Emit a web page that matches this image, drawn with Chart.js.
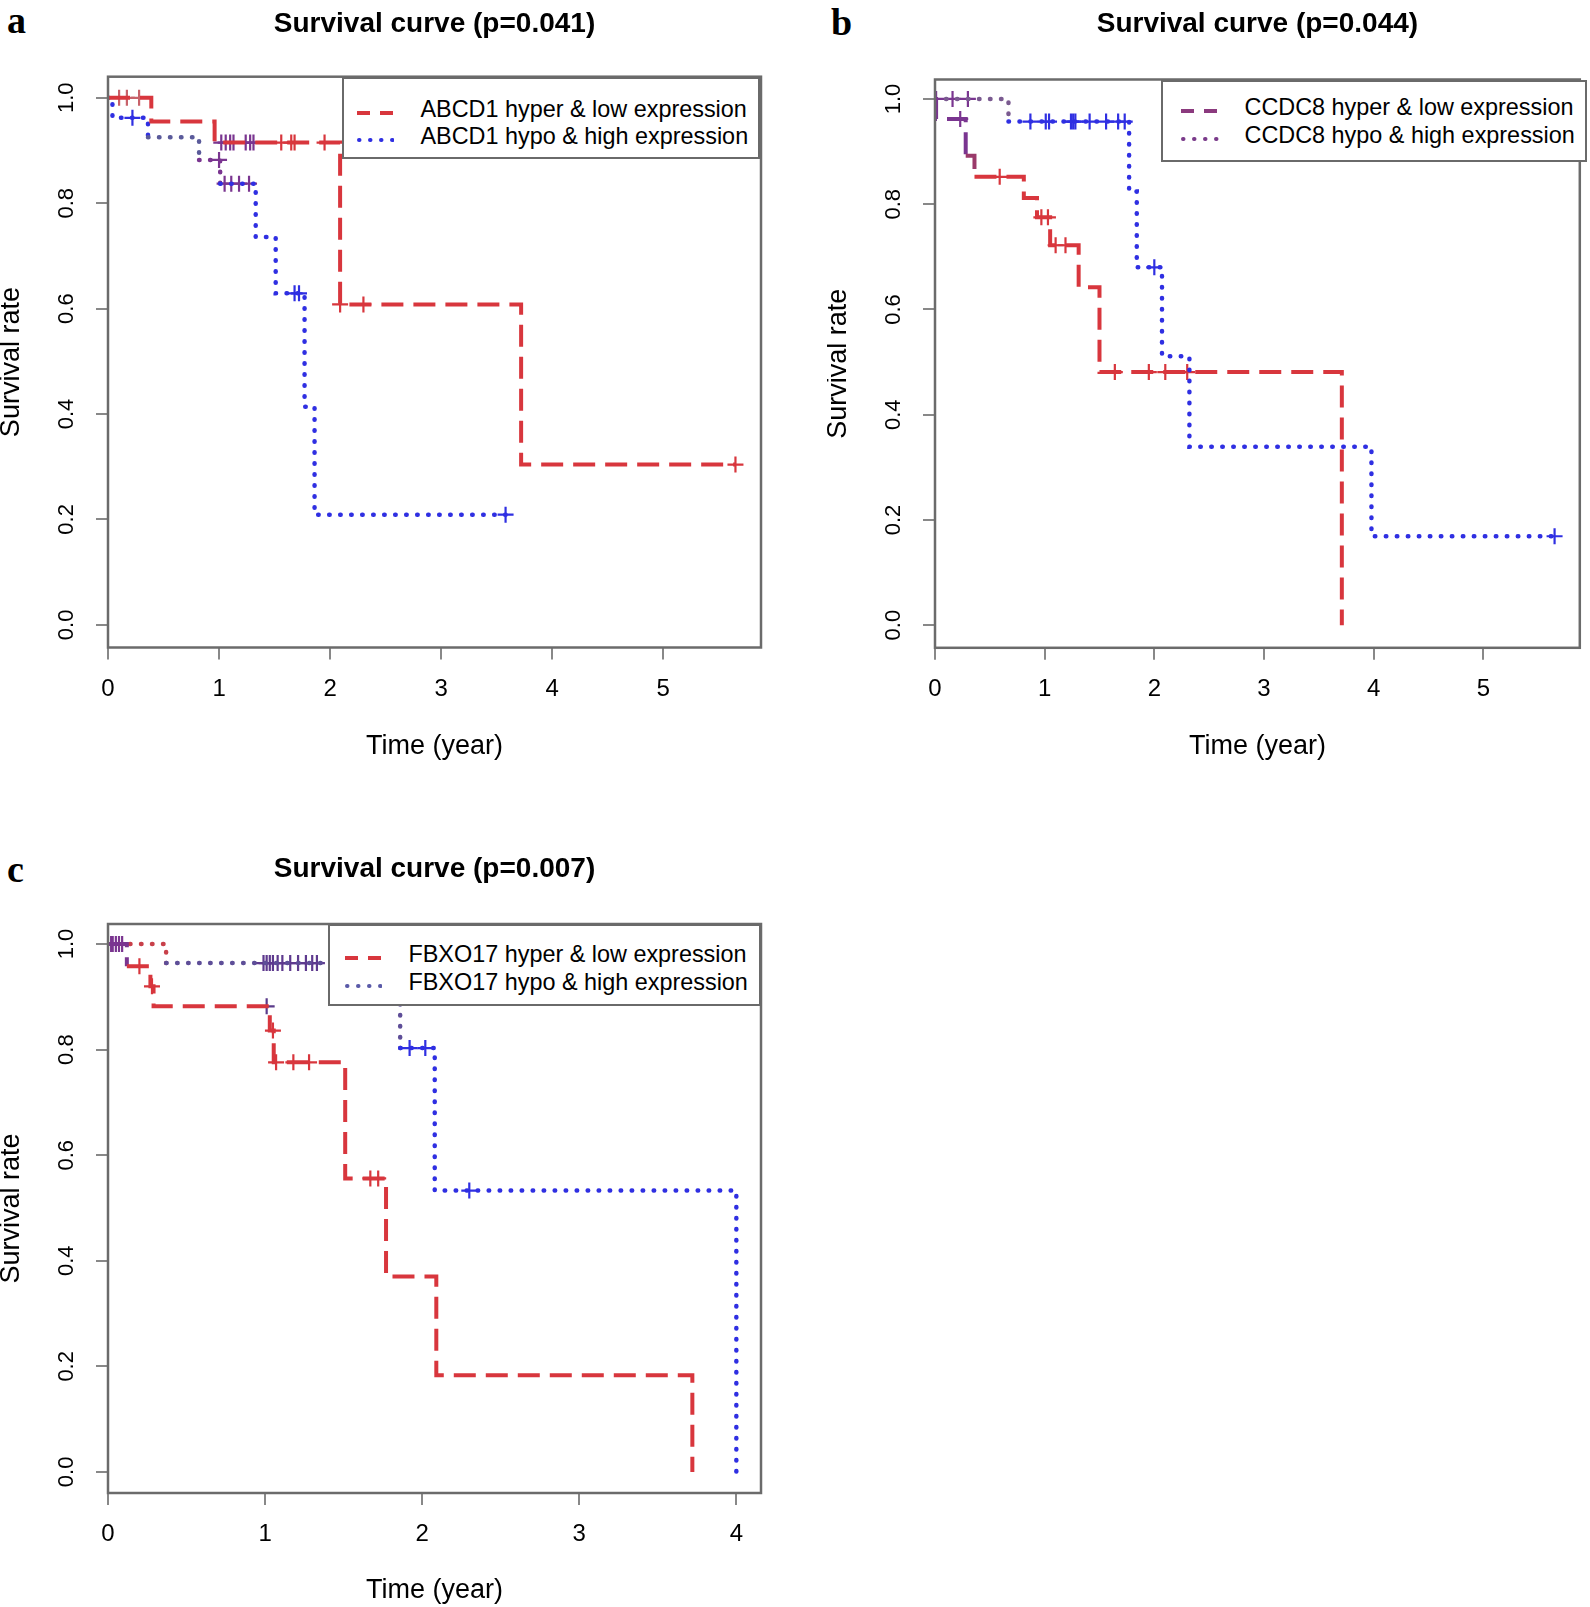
<!DOCTYPE html>
<html>
<head>
<meta charset="utf-8">
<title>Survival curves</title>
<script src="https://cdn.jsdelivr.net/npm/chart.js@4.4.1/dist/chart.umd.min.js"></script>
<style>
  body { margin: 0; background: #fff; }
  #page { position: relative; width: 1590px; height: 1607px; overflow: hidden; font-family: "Liberation Sans", Arial, sans-serif; }
  canvas { position: absolute; }
  .letter { position: absolute; font-family: "Liberation Serif", "Times New Roman", serif; font-weight: bold; font-size: 38px; line-height: 38px; }
  .legend { position: absolute; box-sizing: border-box; background: #fff; border: 2.5px solid #6a6a6a; }
  .legend .row { position: absolute; white-space: nowrap; font-size: 23.4px; line-height: 24px; color: #000; }
  .legend svg { position: absolute; }
</style>
</head>
<body>
<div id="page">
  <div class="letter" style="left:7px;top:1px">a</div>
  <div class="letter" style="left:831px;top:3px">b</div>
  <div class="letter" style="left:7px;top:850px">c</div>
  <canvas id="chartA" width="800" height="800" style="left:0;top:0"></canvas>
  <canvas id="chartB" width="763" height="800" style="left:827px;top:0"></canvas>
  <canvas id="chartC" width="800" height="767" style="left:0;top:840px"></canvas>
</div>
<script>
// --- data (time in years, survival rate) ---
const yTicks = [0, 0.2, 0.4, 0.6, 0.8, 1.0];

// a: ABCD1
const aXTicks = [0, 1, 2, 3, 4, 5];
const aHyperTime = [0, 0.39, 0.96, 2.09, 3.72, 5.65];
const aHyperSurv = [1.0, 0.955, 0.915, 0.608, 0.304, 0.304];
const aHyperCensor = [0.10, 0.17, 0.28, 1.02, 1.06, 1.10, 1.13, 1.24, 1.28, 1.31, 1.56, 1.65, 1.68, 1.95, 2.09, 2.30, 5.65];
const aHypoTime = [0, 0.04, 0.36, 0.82, 1.01, 1.33, 1.51, 1.77, 1.86, 3.58];
const aHypoSurv = [1.0, 0.962, 0.925, 0.882, 0.837, 0.736, 0.629, 0.414, 0.209, 0.209];
const aHypoCensor = [0.22, 1.00, 1.05, 1.11, 1.18, 1.27, 1.68, 1.72, 3.58];

// b: CCDC8
const bXTicks = [0, 1, 2, 3, 4, 5];
const bHyperTime = [0, 0.01, 0.28, 0.36, 0.81, 0.93, 1.05, 1.31, 1.50, 3.71];
const bHyperSurv = [1.0, 0.962, 0.892, 0.852, 0.812, 0.775, 0.722, 0.642, 0.481, 0.0];
const bHyperCensor = [0.23, 0.59, 0.97, 1.03, 1.10, 1.19, 1.64, 1.95, 2.10, 2.30];
const bHypoTime = [0, 0.67, 1.77, 1.84, 2.07, 2.32, 3.98, 5.65];
const bHypoSurv = [1.0, 0.957, 0.824, 0.68, 0.511, 0.339, 0.169, 0.169];
const bHypoCensor = [0.01, 0.16, 0.30, 0.87, 1.01, 1.04, 1.24, 1.26, 1.28, 1.41, 1.56, 1.67, 1.73, 2.00, 5.65];

// c: FBXO17
const cXTicks = [0, 1, 2, 3, 4];
const cHyperTime = [0, 0.12, 0.27, 0.29, 1.03, 1.055, 1.51, 1.77, 2.09, 3.72];
const cHyperSurv = [1.0, 0.958, 0.92, 0.882, 0.836, 0.776, 0.556, 0.37, 0.183, 0.0];
const cHyperCensor = [0.03, 0.07, 0.20, 0.28, 1.01, 1.05, 1.07, 1.18, 1.28, 1.67, 1.72];
const cHypoTime = [0, 0.37, 1.86, 2.08, 4.0];
const cHypoSurv = [1.0, 0.964, 0.803, 0.533, 0.0];
const cHypoCensor = [0.02, 0.05, 0.09, 0.99, 1.01, 1.03, 1.05, 1.08, 1.11, 1.16, 1.21, 1.26, 1.30, 1.33, 1.92, 2.02, 2.30];

const RED = '#d8363d';
const BLUE = '#2f2fe2';
const PURPLE = '#7a3590';

Chart.defaults.font.family = '"Liberation Sans", Arial, Helvetica, sans-serif';
Chart.defaults.color = '#000';

// box round the plot region, like R's bty="o"
const framePlugin = {
  id: 'frame',
  afterDatasetsDraw(chart) {
    const { ctx, chartArea: a } = chart;
    ctx.save();
    ctx.strokeStyle = '#6b6b6b';
    ctx.lineWidth = 2.5;
    ctx.strokeRect(a.left, a.top, a.right - a.left, a.bottom - a.top);
    ctx.restore();
  }
};

function stepPoints(times, surv) {
  return times.map((t, i) => ({ x: t, y: surv[i] }));
}
// censor marks sit on the step curve
function survAt(times, surv, t) {
  let s = surv[0];
  for (let i = 0; i < times.length; i++) if (times[i] <= t) s = surv[i];
  return s;
}
function censorPoints(times, surv, cens) {
  return cens.map(t => ({ x: t, y: survAt(times, surv, t) }));
}
function spanColor(x, base, spans) {
  for (const s of spans || []) if (x >= s[0] && x <= s[1]) return s[2];
  return base;
}

function curve(label, times, surv, color, dotted, spans) {
  return {
    label: label,
    data: stepPoints(times, surv),
    stepped: 'before',
    borderColor: color,
    borderWidth: dotted ? 4.5 : 4,
    borderDash: dotted ? [0.5, 10.5] : [22, 10],
    borderCapStyle: dotted ? 'round' : 'butt',
    pointRadius: 0,
    fill: false,
    segment: { borderColor: ctx => spanColor(ctx.p0.parsed.x, color, spans) }
  };
}
function marks(times, surv, cens, color, spans) {
  return {
    label: '',
    data: censorPoints(times, surv, cens),
    showLine: false,
    pointStyle: 'cross',
    pointRadius: 8,
    pointBorderWidth: 2.2,
    pointBorderColor: ctx => ctx.raw ? spanColor(ctx.raw.x, color, spans) : color,
    pointBackgroundColor: 'rgba(0,0,0,0)'
  };
}

function kmChart(p) {
  const chart = new Chart(document.getElementById(p.id), {
    type: 'line',
    data: { datasets: p.datasets },
    options: {
      responsive: false,
      animation: false,
      events: [],
      layout: { padding: { right: p.padRight } },
      plugins: {
        legend: { display: false },
        tooltip: { enabled: false },
        title: {
          display: true, text: p.title, fullSize: false,
          font: { size: 28, weight: 'bold' },
          padding: { top: p.titleTop, bottom: p.titleBottom }
        }
      },
      scales: {
        x: {
          type: 'linear', min: 0, max: p.xMax,
          afterBuildTicks: ax => { ax.ticks = p.xTicks.map(v => ({ value: v })); },
          afterFit: ax => { ax.height = p.xAxisHeight; },
          grid: { drawOnChartArea: false, drawTicks: true, tickLength: 12, color: '#888', lineWidth: 2 },
          border: { display: false },
          ticks: { autoSkip: false, maxRotation: 0, padding: 15.3, font: { size: 24 }, callback: v => String(v) },
          title: { display: true, text: 'Time (year)', font: { size: 27 }, padding: { top: 0, bottom: p.xTitleBottom } }
        },
        y: {
          min: p.yMin, max: p.yMax,
          afterBuildTicks: ax => { ax.ticks = yTicks.map(v => ({ value: v })); },
          afterFit: ax => { ax.width = 108; },
          grid: { drawOnChartArea: false, drawTicks: true, tickLength: 12, color: '#888', lineWidth: 2 },
          border: { display: false },
          ticks: { minRotation: 90, maxRotation: 90, crossAlign: 'center', padding: 14.2, font: { size: 22 }, callback: v => v.toFixed(1) },
          title: { display: true, text: 'Survival rate', font: { size: 27 }, padding: { top: -4.5, bottom: 0 } }
        }
      }
    },
    plugins: [framePlugin]
  });
  addLegend(chart, p.legend);
  return chart;
}

// opaque legend box in the top right corner of the plot, as R draws it
function addLegend(chart, box) {
  const page = document.getElementById('page');
  const svgNS = 'http://www.w3.org/2000/svg';
  const bw = 2.5;
  const div = document.createElement('div');
  div.className = 'legend';
  div.style.left = box.left + 'px';
  div.style.top = box.top + 'px';
  div.style.width = (box.right - box.left) + 'px';
  div.style.height = (box.bottom - box.top) + 'px';
  chart.data.datasets.slice(0, 2).forEach((ds, i) => {
    const dotted = ds.borderDash[0] < 2;
    const svg = document.createElementNS(svgNS, 'svg');
    svg.setAttribute('width', box.sampleW);
    svg.setAttribute('height', 10);
    svg.style.left = (box.sampleX - box.left - bw) + 'px';
    svg.style.top = (box.rows[i] + 4 - 5 - box.top - bw) + 'px';
    const line = document.createElementNS(svgNS, 'line');
    line.setAttribute('x1', dotted ? 2 : 0);
    line.setAttribute('x2', box.sampleW);
    line.setAttribute('y1', 5);
    line.setAttribute('y2', 5);
    line.setAttribute('stroke', box.colors[i]);
    line.setAttribute('stroke-width', 4);
    line.setAttribute('stroke-dasharray', dotted ? '0.5 10.5' : '13 10');
    line.setAttribute('stroke-linecap', dotted ? 'round' : 'butt');
    svg.appendChild(line);
    div.appendChild(svg);
    const txt = document.createElement('div');
    txt.className = 'row';
    txt.textContent = ds.label;
    txt.style.left = (box.textX - box.left - bw) + 'px';
    txt.style.top = (box.rows[i] - 12 - box.top - bw) + 'px';
    div.appendChild(txt);
  });
  page.appendChild(div);
}

kmChart({
  id: 'chartA', title: 'Survival curve (p=0.041)', xTicks: aXTicks,
  xMax: 5.88, yMin: -0.043, yMax: 1.04,
  titleTop: 7.1, titleBottom: 36.0, padRight: 39, xAxisHeight: 152.5, xTitleBottom: 37.5,
  datasets: [
    curve('ABCD1 hyper & low expression', aHyperTime, aHyperSurv, RED, false, []),
    curve('ABCD1 hypo & high expression', aHypoTime, aHypoSurv, BLUE, true, [[0.8, 0.9, PURPLE], [0.3, 0.4, '#5a5a9a']]),
    marks(aHyperTime, aHyperSurv, aHyperCensor, RED, [[0.0, 0.3, '#c8626a'], [0.95, 1.35, PURPLE]]),
    marks(aHypoTime, aHypoSurv, aHypoCensor, BLUE, [[0.95, 1.35, PURPLE]])
  ],
  legend: { left: 341.7, top: 76.7, right: 760, bottom: 159.3, rows: [109.3, 136.7], sampleX: 358, sampleW: 37, textX: 421, colors: [RED, BLUE] }
});

kmChart({
  id: 'chartB', title: 'Survival curve (p=0.044)', xTicks: bXTicks,
  xMax: 5.88, yMin: -0.043, yMax: 1.037,
  titleTop: 7.1, titleBottom: 38.8, padRight: 3, xAxisHeight: 152.2, xTitleBottom: 37.5,
  datasets: [
    curve('CCDC8 hyper & low expression', bHyperTime, bHyperSurv, RED, false, [[0, 0.2, PURPLE], [0.25, 0.3, '#9a3a6a']]),
    curve('CCDC8 hypo & high expression', bHypoTime, bHypoSurv, BLUE, true, [[0, 0.6, '#7a5a90']]),
    marks(bHyperTime, bHyperSurv, bHyperCensor, RED, [[0, 0.3, PURPLE]]),
    marks(bHypoTime, bHypoSurv, bHypoCensor, BLUE, [[0, 0.35, PURPLE]])
  ],
  legend: { left: 1161, top: 79.5, right: 1587, bottom: 161.7, rows: [107.5, 135.3], sampleX: 1181, sampleW: 39, textX: 1245, colors: ['#8b3a7e', '#7a3a8a'] }
});

kmChart({
  id: 'chartC', title: 'Survival curve (p=0.007)', xTicks: cXTicks,
  xMax: 4.157, yMin: -0.04, yMax: 1.038,
  titleTop: 12.6, titleBottom: 37.8, padRight: 39, xAxisHeight: 114, xTitleBottom: 0,
  datasets: [
    curve('FBXO17 hyper & low expression', cHyperTime, cHyperSurv, RED, false, [[0, 0.1, PURPLE], [0.29, 1.0, RED]]),
    curve('FBXO17 hypo & high expression', cHypoTime, cHypoSurv, BLUE, true, [[0, 0.3, '#c8404a'], [0.37, 1.8, '#5e4e98']]),
    marks(cHyperTime, cHyperSurv, cHyperCensor, RED, [[0, 0.12, PURPLE], [1.0, 1.02, '#5a3a8a']]),
    marks(cHypoTime, cHypoSurv, cHypoCensor, BLUE, [[0, 0.12, PURPLE], [0.95, 1.4, '#5e3a8e']])
  ],
  legend: { left: 328.4, top: 924, right: 761, bottom: 1006.3, rows: [954, 982], sampleX: 346, sampleW: 37, textX: 409, colors: [RED, '#5a5aa8'] }
});
</script>
</body>
</html>
